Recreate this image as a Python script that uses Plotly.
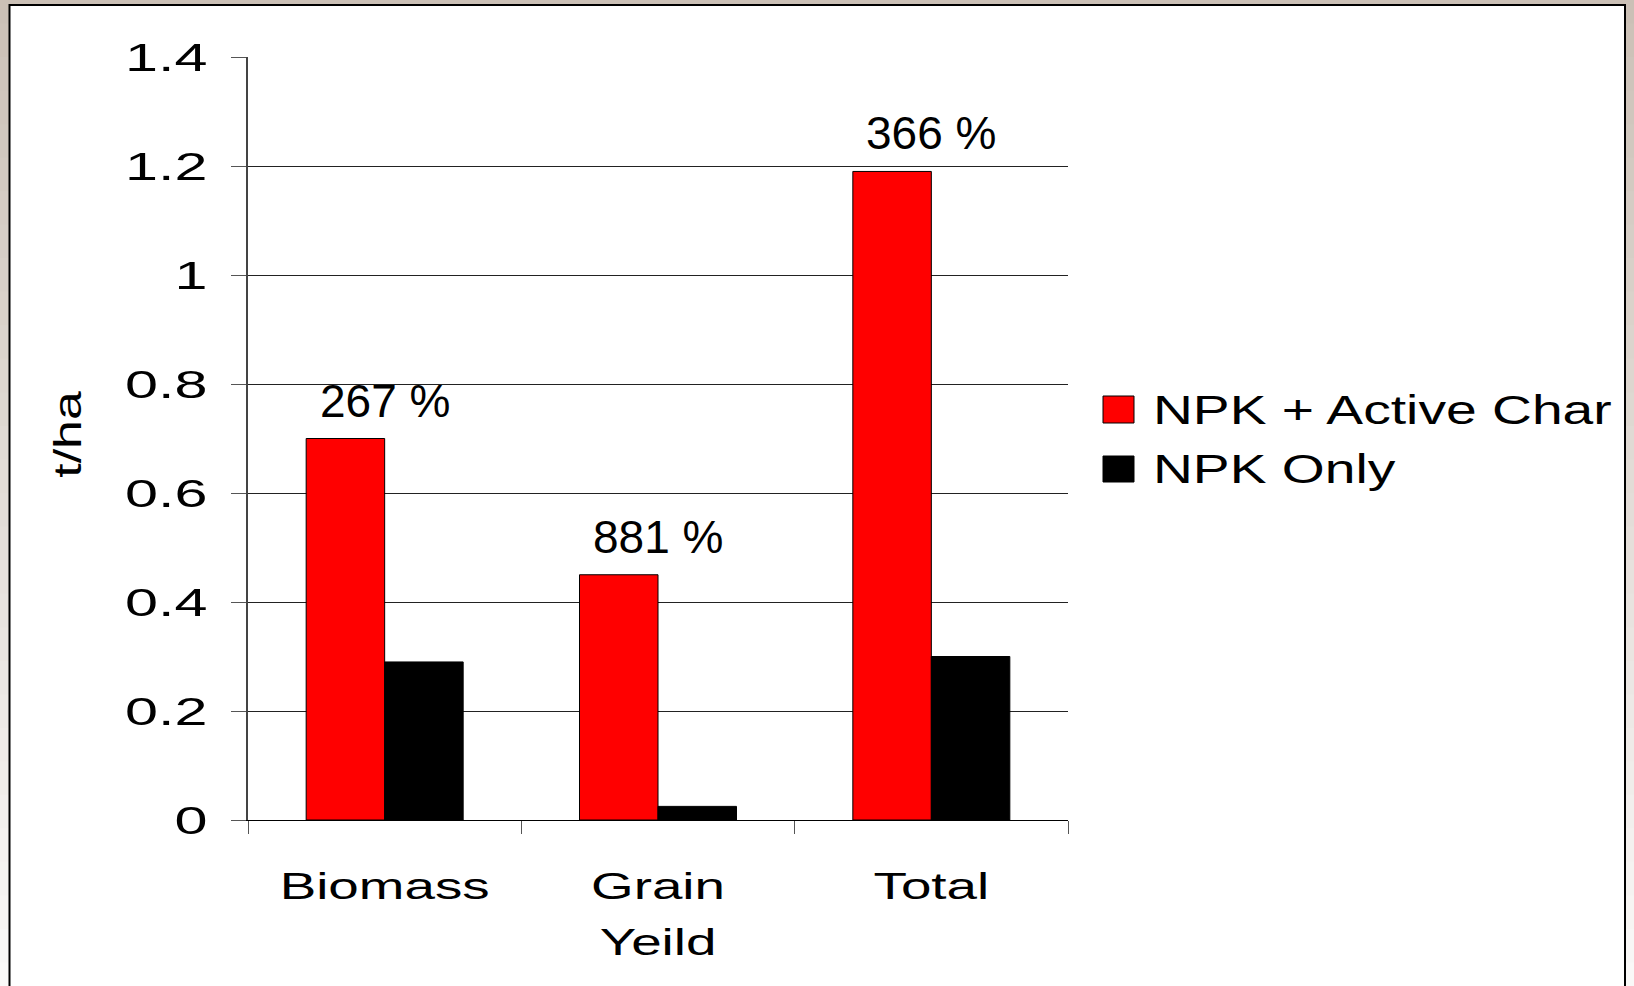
import plotly.graph_objects as go

# ---------------- data ----------------
categories = ["Biomass", "Grain<br>Yeild", "Total"]
series_names = ["NPK + Active Char", "NPK Only"]
npk_active_char = [0.70, 0.45, 1.19]
npk_only = [0.29, 0.025, 0.30]
pct_labels = ["267 %", "881 %", "366 %"]
y_tick_vals = [0, 0.2, 0.4, 0.6, 0.8, 1.0, 1.2, 1.4]
y_tick_text = ["0", "0.2", "0.4", "0.6", "0.8", "1", "1.2", "1.4"]
y_title = "t/ha"
series_colors = ["#FF0000", "#000000"]

# ---------------- geometry ----------------
W, H = 1634, 986
PL, PR, PT, PB = 248, 1068, 57, 820  # plot area in pixels


def px_x(px):
    return (px - PL) / (PR - PL)


def px_y(py):
    return (PB - py) / (PB - PT)


FONT = "Liberation Sans, Arial, sans-serif"

fig = go.Figure()
fig.add_trace(go.Bar(
    name=series_names[0], x=categories, y=npk_active_char,
    marker=dict(color=series_colors[0], line=dict(color="#000000", width=1)),
    showlegend=False,
))
fig.add_trace(go.Bar(
    name=series_names[1], x=categories, y=npk_only,
    marker=dict(color=series_colors[1], line=dict(color="#000000", width=1)),
    showlegend=False,
))

shapes = []
# background gradient (beige at top fading to near white at bottom)
c0 = (203, 192, 182)
c1 = (250, 249, 248)
nb = 30
for i in range(nb):
    t = i / (nb - 1)
    col = "rgb(%d,%d,%d)" % tuple(round(a + (b - a) * t) for a, b in zip(c0, c1))
    ya = -10 + i * (H + 20) / nb
    yb = ya + (H + 20) / nb + 1
    shapes.append(dict(type="rect", xref="paper", yref="paper", layer="below",
                       x0=px_x(-5), x1=px_x(W + 5), y0=px_y(ya), y1=px_y(yb),
                       fillcolor=col, line=dict(width=0)))
# white panel with black border
shapes.append(dict(type="rect", xref="paper", yref="paper", layer="below",
                   x0=px_x(9.5), x1=px_x(1625), y0=px_y(5), y1=px_y(H + 20),
                   fillcolor="#FFFFFF", line=dict(color="#000000", width=2)))
# legend keys
shapes.append(dict(type="rect", xref="paper", yref="paper",
                   x0=px_x(1103), x1=px_x(1134), y0=px_y(396), y1=px_y(423),
                   fillcolor=series_colors[0], line=dict(color="#000000", width=1)))
shapes.append(dict(type="rect", xref="paper", yref="paper",
                   x0=px_x(1103), x1=px_x(1134), y0=px_y(456), y1=px_y(482),
                   fillcolor=series_colors[1], line=dict(color="#000000", width=1)))

annotations = []
for c, v, t in zip(categories, npk_active_char, pct_labels):
    annotations.append(dict(x=c, y=v, xref="x", yref="y", text=t, showarrow=False,
                            yanchor="middle", xanchor="center", yshift=38,
                            font=dict(family=FONT, size=46, color="#000000")))
# y-axis title
annotations.append(dict(x=px_x(67.5), y=px_y(434.5), xref="paper", yref="paper",
                        text=y_title, showarrow=False, textangle=-90,
                        xanchor="center", yanchor="middle",
                        font=dict(family=FONT, size=39, color="#000000")))
# legend texts
for name, cy in zip(series_names, [410, 469]):
    annotations.append(dict(x=px_x(1151), y=px_y(cy), xref="paper", yref="paper",
                            text=name, showarrow=False, align="left",
                            xanchor="left", yanchor="middle",
                            font=dict(family=FONT, size=40, color="#000000")))

fig.update_layout(
    width=W, height=H,
    margin=dict(l=PL, r=W - PR, t=PT, b=H - PB, pad=0),
    paper_bgcolor="#FFFFFF",
    plot_bgcolor="rgba(0,0,0,0)",
    barmode="group", bargap=0.4256, bargroupgap=0,
    shapes=shapes, annotations=annotations,
    showlegend=False,
    font=dict(family=FONT, color="#000000"),
)
fig.update_xaxes(
    type="category", showgrid=False, zeroline=False,
    showline=True, linecolor="#000000", linewidth=1,
    ticks="outside", tickson="boundaries", ticklen=13, tickcolor="#555555", tickwidth=1,
    tickfont=dict(family=FONT, size=37, color="#000000"),
    ticklabelstandoff=34,
)
fig.update_yaxes(
    range=[0, 1.4], tickvals=y_tick_vals, ticktext=y_tick_text,
    showgrid=True, gridcolor="#222222", gridwidth=1,
    zeroline=True, zerolinecolor="#000000", zerolinewidth=1,
    showline=True, linecolor="#444444", linewidth=1.5,
    ticks="outside", ticklen=15, tickcolor="#555555", tickwidth=1,
    tickfont=dict(family=FONT, size=39, color="#000000"),
    ticklabelstandoff=16,
)

post = """
(function(){
  var gd = document.getElementById('{plot_id}');
  function fit(el, f){
    if(el.getAttribute('data-st')) return;
    var L = el.getComputedTextLength();
    if(!L) return;
    el.setAttribute('textLength', (L*f).toFixed(2));
    el.setAttribute('lengthAdjust', 'spacingAndGlyphs');
    el.setAttribute('data-st', '1');
  }
  function apply(sel, f, lineDy){
    gd.querySelectorAll(sel).forEach(function(t){
      var lines = t.querySelectorAll('tspan.line');
      if(lines.length){
        lines.forEach(function(s, i){
          if(lineDy && i > 0) s.setAttribute('dy', lineDy);
          fit(s, f);
        });
      }
      else { fit(t, f); }
    });
  }
  function run(){
    apply('g.ytick text', 1.52);
    apply('g.xtick text', 1.48, '1.5em');
    apply('g.annotation[data-index="3"] text', 1.33);
    apply('g.annotation[data-index="4"] text', 1.38);
    apply('g.annotation[data-index="5"] text', 1.38);
  }
  run();
  if(gd.on) gd.on('plotly_afterplot', run);
  setTimeout(run, 50);
})();
"""

fig.write_html("out.html", post_script=post)
